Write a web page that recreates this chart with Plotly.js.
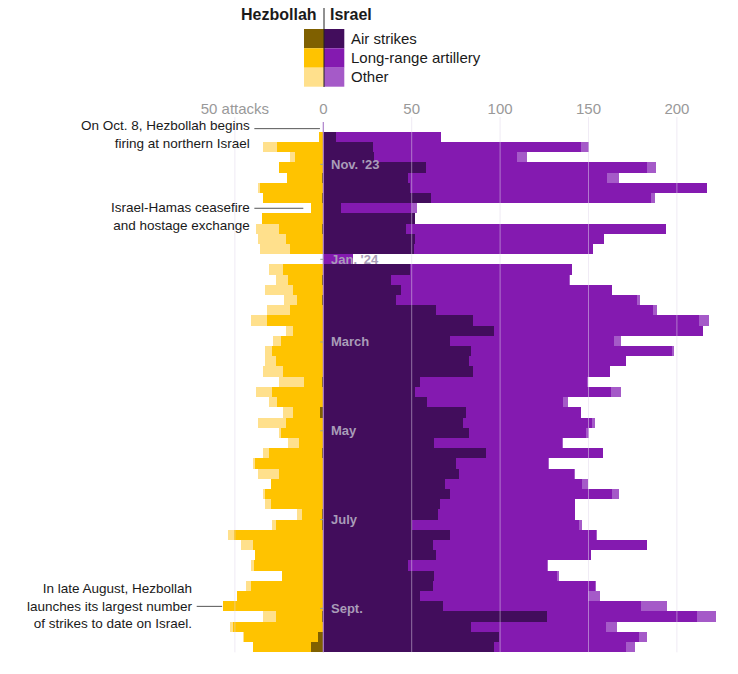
<!DOCTYPE html>
<html><head><meta charset="utf-8">
<script src="https://cdn.plot.ly/plotly-3.0.1.min.js"></script>
<style>html,body{margin:0;padding:0;background:#fff}#chart{width:738px;height:674px}</style>
</head><body><div id="chart"></div>
<script>
// Week starting dates (Sunday)
const weeks = ["2023-10-08","2023-10-15","2023-10-22","2023-10-29","2023-11-05","2023-11-12","2023-11-19","2023-11-26",
"2023-12-03","2023-12-10","2023-12-17","2023-12-24","2023-12-31","2024-01-07","2024-01-14","2024-01-21","2024-01-28",
"2024-02-04","2024-02-11","2024-02-18","2024-02-25","2024-03-03","2024-03-10","2024-03-17","2024-03-24","2024-03-31",
"2024-04-07","2024-04-14","2024-04-21","2024-04-28","2024-05-05","2024-05-12","2024-05-19","2024-05-26","2024-06-02",
"2024-06-09","2024-06-16","2024-06-23","2024-06-30","2024-07-07","2024-07-14","2024-07-21","2024-07-28","2024-08-04",
"2024-08-11","2024-08-18","2024-08-25","2024-09-01","2024-09-08","2024-09-15","2024-09-22"];

// Hezbollah attacks per week
const hzAir   = [0,0,0,0,1,0,1,0,0,1,0,0,0,0,1,0,1,0,0,0,0,0,0,0,1,0,0,2,0,0,0,1,0,0,0,0,0,1,1,0,0,0,0,0,0,0,0,1,0,3,7];
const hzArt   = [2.5,26,16,24.9,19.7,35.8,32.9,7.2,34.9,23.9,21.1,18.9,0,22.6,18.8,17,13.7,18.9,31.7,17,23.9,28.8,27,22.6,9.9,28.8,26,15,21.1,23.9,13.8,29.7,38.7,24.9,29.8,33,29.8,11.3,26,50.5,39.6,38.7,39,23.6,40.9,49,56.9,26,50.9,41.7,32.6];
const hzOther = [0,7.9,2.9,0,0,1,0,0,0,13.2,15.7,16.9,0,7.9,7,16,7.5,12.8,9.2,4.1,4.8,4.2,6,11.3,14,9.3,4.7,5.6,15.7,1,6,3.2,0.9,11.9,0,0.9,3.2,2.4,1.8,3.2,7.2,0,1.9,0,2.8,0,0,6.9,1.9,0.9,0];

// Israel attacks per week
const isAir   = [7,28,28.8,57.9,48.1,49,60.7,10,51.8,46.8,51.8,51.5,0,49,38.1,43.9,41.1,63.7,84.8,96.5,71.6,83.5,82.6,84.5,54.7,51.8,58.8,80.7,78.8,82.6,62.8,91.8,74.8,76.7,68.8,71.6,66,64.7,50.3,71.6,61.8,63.7,48.1,62.8,61.8,54.7,67.9,126.7,83.5,99.4,96.5];
const isArt   = [59.4,117.5,80.9,125.4,112.2,168.2,124.6,40,0,147,107.1,100.8,17,91.5,100.8,119.6,136.1,123,127.7,118.4,93,113.5,88.4,77.6,94.2,110.7,76.9,64.8,73,66,72,66.6,52.5,65.1,77.7,91.9,76.3,77.6,94.5,82.6,121.5,87.5,78.2,69.6,91.9,95.2,111.6,84.8,76.2,79.1,74.7];
const isOther = [0,4.8,5.7,4.9,6.9,0,2.3,2.8,0,0,0,0,0,0,0.6,0,1.9,1.8,5.6,0,3.8,1.3,0,0,1,5.7,2.9,0,1.9,1.9,0.9,0,0.5,0.5,3,3.7,0,0,1.7,0.4,0,0,0.6,1.1,0.5,6.6,14.7,10.6,6.6,4.8,5.1];

// Axis ticks and month labels
const xTickVals = [-50, 0, 50, 100, 150, 200];
const xTickText = ["50 attacks", "0", "50", "100", "150", "200"];
const monthLabels = ["Nov. '23", "Jan. '24", "March", "May", "July", "Sept."];
const monthAt = [2.7, 12, 20.1, 28.8, 37.5, 46.2]; // position in week rows

const W = 738, H = 674;
const FONT = "Liberation Sans, Arial, Helvetica, sans-serif";
const X0 = 323.3, K = 1.768;               // pixel of zero, pixels per attack
const xd = p => (p - X0) / K;             // pixel -> x data
const pxp = p => p / W, pyp = p => 1 - p / H;
const yDomain = [pyp(652.3), pyp(121.5)];

const C = {hzAir:'#7f6000', hzArt:'#ffc300', hzOther:'#ffe08c',
           isAir:'#420d5c', isArt:'#841ab0', isOther:'#a55ac8'};
const neg = a => a.map(v => -v);
function bar(x, color, name) {
  return {type:'bar', orientation:'h', y:weeks, x:x, name:name,
          marker:{color:color, line:{width:0}}, hoverinfo:'y+name'};
}
const data = [
  bar(neg(hzAir), C.hzAir, 'Hezbollah air strikes'),
  bar(neg(hzArt), C.hzArt, 'Hezbollah long-range artillery'),
  bar(neg(hzOther), C.hzOther, 'Hezbollah other'),
  bar(isAir, C.isAir, 'Israel air strikes'),
  bar(isArt, C.isArt, 'Israel long-range artillery'),
  bar(isOther, C.isOther, 'Israel other')
];

const shapes = [];
// grid lines drawn over bars
xTickVals.filter(v => v !== 0).forEach(v => shapes.push({
  type:'line', xref:'x', yref:'paper', x0:v, x1:v, y0:yDomain[0], y1:pyp(117),
  line:{color:'rgba(225,215,235,0.5)', width:1}, layer:'above'}));
// center line
shapes.push({type:'line', xref:'x', yref:'paper', x0:0, x1:0, y0:yDomain[0], y1:pyp(122),
  line:{color:'#ad80cb', width:1.2}, layer:'above'});
// month tick marks
monthAt.forEach(m => shapes.push({type:'line', xref:'x', yref:'y', x0:-1.7, x1:0.3, y0:m, y1:m,
  line:{color:'#9a9a9a', width:1}, layer:'above'}));
// annotation leader lines
const leaders = [[-39, -1.9, -0.8], [-39, -11.3, 7], [-71.6, -(hzAir[46]+hzArt[46]+hzOther[46]) - 0.3, 46]];
leaders.forEach(l => shapes.push({type:'line', xref:'x', yref:'y', x0:l[0], x1:l[1], y0:l[2], y1:l[2],
  line:{color:'#555', width:1}, layer:'above'}));

// legend swatches
const legRows = [[29, 48.3, C.hzAir, C.isAir], [48.3, 67.7, C.hzArt, C.isArt], [67.7, 86.7, C.hzOther, C.isOther]];
legRows.forEach(r => {
  shapes.push({type:'rect', xref:'paper', yref:'paper', x0:pxp(304), x1:pxp(324), y0:pyp(r[1]), y1:pyp(r[0]),
    fillcolor:r[2], line:{width:0}});
  shapes.push({type:'rect', xref:'paper', yref:'paper', x0:pxp(324), x1:pxp(344.3), y0:pyp(r[1]), y1:pyp(r[0]),
    fillcolor:r[3], line:{width:0}});
});
shapes.push({type:'line', xref:'paper', yref:'paper', x0:pxp(324), x1:pxp(324), y0:pyp(87), y1:pyp(8),
  line:{color:'#222', width:1}});

const annotations = [];
const txt = (text, x, y, anchor, size, opts) => Object.assign({text:text, showarrow:false,
  xref:'paper', yref:'paper', x:pxp(x), y:pyp(y), xanchor:anchor, yanchor:'middle',
  font:{family:FONT, size:size, color:'#1a1a1a'}}, opts || {});
annotations.push(txt('<b>Hezbollah</b>', 319, 14.5, 'right', 16));
annotations.push(txt('<b>Israel</b>', 328, 14.5, 'left', 16));
annotations.push(txt('Air strikes', 349, 38.3, 'left', 15));
annotations.push(txt('Long-range artillery', 349, 57.3, 'left', 15));
annotations.push(txt('Other', 349, 76.7, 'left', 15));
annotations.push(txt('On Oct. 8, Hezbollah begins<br>firing at northern Israel', 251.5, 134.7, 'right', 13.5, {align:'right'}));
annotations.push(txt('Israel-Hamas ceasefire<br>and hostage exchange', 251.5, 216.8, 'right', 13.5, {align:'right'}));
annotations.push(txt('In late August, Hezbollah<br>launches its largest number<br>of strikes to date on Israel.', 194.5, 605.5, 'right', 13.5, {align:'right'}));
monthLabels.forEach((m, i) => annotations.push({text:'<b>' + m + '</b>', showarrow:false, xref:'x', yref:'y',
  x:xd(329), y:monthAt[i], xanchor:'left', yanchor:'middle',
  font:{family:FONT, size:13, color:'#a99cb8'}}));

const layout = {
  width:W, height:H, margin:{l:0, r:0, t:0, b:0}, paper_bgcolor:'#fff', plot_bgcolor:'rgba(0,0,0,0)',
  barmode:'relative', bargap:0, bargroupgap:0, showlegend:false,
  font:{family:FONT},
  xaxis:{domain:[0,1], range:[xd(0), xd(W)], side:'top', tickvals:xTickVals, ticktext:xTickText,
    tickfont:{family:FONT, size:15, color:'#999'}, showgrid:false, zeroline:false, showline:false, ticks:'',
    ticklabelstandoff:4, fixedrange:true},
  yaxis:{domain:yDomain, type:'category', range:[50.5, -1.5], visible:false, fixedrange:true},
  shapes:shapes, annotations:annotations
};
Plotly.newPlot('chart', data, layout, {displayModeBar:false, staticPlot:true});
</script>
</body></html>
